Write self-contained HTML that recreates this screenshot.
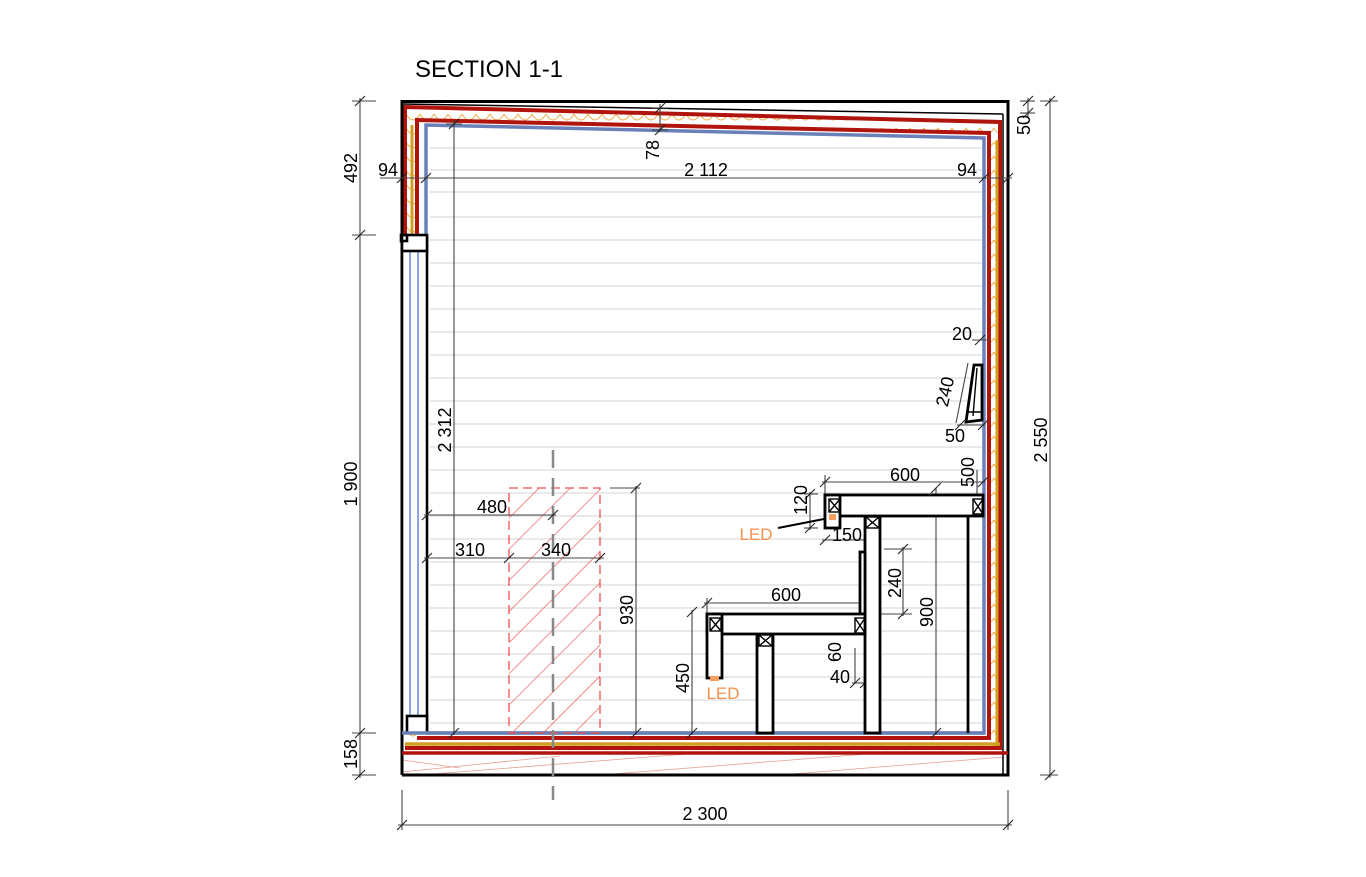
<!DOCTYPE html>
<html><head><meta charset="utf-8"><style>
html,body{margin:0;padding:0;background:#fff;}
svg{display:block;font-family:"Liberation Sans",Arial,sans-serif;}
</style></head><body>
<svg width="1366" height="877" viewBox="0 0 1366 877" xmlns="http://www.w3.org/2000/svg">
<defs>
<pattern id="ins" width="14" height="14" patternUnits="userSpaceOnUse">
<path d="M0 2 Q7 14 14 2" fill="none" stroke="#f2b860" stroke-width="1.2"/>
</pattern>
<pattern id="hat" width="22" height="22" patternUnits="userSpaceOnUse" patternTransform="rotate(45)">
<line x1="0" y1="0" x2="0" y2="22" stroke="#f05050" stroke-width="1.3"/>
</pattern>
</defs>
<text x="415" y="77" font-size="24" fill="#000">SECTION 1-1</text>

<g stroke="#dcdcdc" stroke-width="1.2">
<line x1="430" y1="148" x2="982" y2="148"/>
<line x1="430" y1="170" x2="982" y2="170"/><line x1="430" y1="192" x2="982" y2="192"/>
<line x1="430" y1="217" x2="982" y2="217"/><line x1="430" y1="240" x2="982" y2="240"/>
<line x1="430" y1="263" x2="982" y2="263"/><line x1="430" y1="286" x2="982" y2="286"/>
<line x1="430" y1="309" x2="982" y2="309"/><line x1="430" y1="332" x2="982" y2="332"/>
<line x1="430" y1="355" x2="982" y2="355"/><line x1="430" y1="378" x2="982" y2="378"/>
<line x1="430" y1="401" x2="982" y2="401"/><line x1="430" y1="424" x2="982" y2="424"/>
<line x1="430" y1="447" x2="982" y2="447"/><line x1="430" y1="470" x2="982" y2="470"/>
<line x1="430" y1="493" x2="982" y2="493"/><line x1="430" y1="516" x2="982" y2="516"/>
<line x1="430" y1="539" x2="982" y2="539"/><line x1="430" y1="562" x2="982" y2="562"/>
<line x1="430" y1="585" x2="982" y2="585"/><line x1="430" y1="608" x2="982" y2="608"/>
<line x1="430" y1="631" x2="982" y2="631"/><line x1="430" y1="654" x2="982" y2="654"/>
<line x1="430" y1="677" x2="982" y2="677"/><line x1="430" y1="700" x2="982" y2="700"/>
<line x1="430" y1="723" x2="982" y2="723"/>
</g>

<polygon points="405,107 1000,122 1000,748 405,748 405,236 416,236 416,120 988,133 988,738 416,738 416,236 405,236" fill="url(#ins)" fill-rule="evenodd"/>
<rect x="402" y="753" width="606" height="22" fill="#fff"/>
<g stroke="#e0a090" stroke-width="0.8">
<line x1="402" y1="772" x2="560" y2="756"/><line x1="420" y1="775" x2="700" y2="753"/>
<line x1="600" y1="775" x2="880" y2="753"/><line x1="780" y1="775" x2="1004" y2="757"/>
<line x1="402" y1="760" x2="460" y2="768"/>
</g>

<g fill="none" stroke-linejoin="miter">
<polyline points="405,236 405,107 1000,122 1000,748 405,748" stroke="#b0140c" stroke-width="4"/>
<polyline points="417,236 417,120 989,133 989,738 417,738" stroke="#b0140c" stroke-width="4"/>
<line x1="997" y1="140" x2="997" y2="746" stroke="#d0a020" stroke-width="3"/>
<line x1="405" y1="744" x2="1000" y2="744" stroke="#d0a020" stroke-width="3.5"/>
<line x1="412" y1="125" x2="412" y2="236" stroke="#d0a020" stroke-width="3"/>
<polyline points="426,236 426,125 984,138 984,733 426,733" stroke="#6a80b8" stroke-width="3.5"/>
</g>
<g fill="none" stroke="#000">
<polyline points="402,775 402,101.5 1008,101.5 1008,775 402,775" stroke-width="3"/>
<line x1="402" y1="104" x2="1003" y2="114" stroke-width="1.5"/>
<line x1="1003" y1="114" x2="1003" y2="775" stroke-width="1.5"/>
<line x1="402" y1="753" x2="1008" y2="753" stroke="#b0140c" stroke-width="3.5"/>
</g>

<rect x="402" y="236" width="24" height="497" fill="#fff"/>
<line x1="410" y1="250" x2="410" y2="716" stroke="#7a9ae0" stroke-width="1.8"/>
<line x1="418" y1="250" x2="418" y2="716" stroke="#7a9ae0" stroke-width="1.8"/>
<g fill="none" stroke="#000" stroke-width="2.6">
<line x1="402" y1="236" x2="402" y2="733"/><line x1="427" y1="236" x2="427" y2="733"/>
<rect x="402" y="235" width="25" height="16" fill="#fff"/>
<rect x="407" y="716" width="20" height="17" fill="#fff"/>
<rect x="401" y="235" width="6" height="6"/>
</g>
<line x1="402" y1="733" x2="984" y2="733" stroke="#6a80b8" stroke-width="3.5"/>

<rect x="509" y="488" width="91" height="245" fill="url(#hat)" stroke="#f05050" stroke-width="1.3" stroke-dasharray="9,5"/>
<line x1="553" y1="450" x2="553" y2="800" stroke="#888" stroke-width="2.5" stroke-dasharray="18,10"/>

<g stroke="#444" stroke-width="1.1" fill="none">
<line x1="360" y1="98" x2="360" y2="778"/>
<line x1="352" y1="101" x2="376" y2="101"/><line x1="352" y1="235" x2="376" y2="235"/>
<line x1="352" y1="733" x2="376" y2="733"/><line x1="352" y1="775" x2="376" y2="775"/>
<line x1="1050" y1="98" x2="1050" y2="778"/><line x1="1040" y1="101" x2="1058" y2="101"/><line x1="1040" y1="775" x2="1058" y2="775"/>
<line x1="1028" y1="98" x2="1028" y2="118"/><line x1="1020" y1="101" x2="1035" y2="101"/><line x1="1020" y1="113" x2="1035" y2="113"/>
<line x1="402" y1="790" x2="402" y2="830"/><line x1="1008" y1="790" x2="1008" y2="830"/>
<line x1="398" y1="825" x2="1012" y2="825"/>
<line x1="380" y1="178" x2="1012" y2="178"/>
<line x1="660" y1="104" x2="660" y2="132"/><line x1="652" y1="108" x2="668" y2="108"/><line x1="652" y1="130" x2="668" y2="130"/>
<line x1="454" y1="120" x2="454" y2="735"/><line x1="446" y1="124" x2="462" y2="124"/>
<line x1="424" y1="515" x2="556" y2="515"/>
<line x1="424" y1="558" x2="604" y2="558"/>
<line x1="636" y1="486" x2="636" y2="735"/><line x1="610" y1="488" x2="640" y2="488"/>
<line x1="692" y1="610" x2="692" y2="735"/>
<line x1="822" y1="482" x2="985" y2="482"/><line x1="825" y1="475" x2="825" y2="495"/>
<line x1="810" y1="492" x2="810" y2="530"/><line x1="804" y1="494" x2="818" y2="494"/><line x1="804" y1="528" x2="818" y2="528"/>
<line x1="822" y1="540" x2="870" y2="540"/>
<line x1="903" y1="547" x2="903" y2="616"/><line x1="884" y1="549" x2="912" y2="549"/><line x1="874" y1="614" x2="912" y2="614"/>
<line x1="936" y1="488" x2="936" y2="735"/>
<line x1="704" y1="603" x2="868" y2="603"/><line x1="707" y1="598" x2="707" y2="614"/>
<line x1="855" y1="648" x2="855" y2="683"/><line x1="852" y1="683" x2="868" y2="683"/>
<line x1="977" y1="470" x2="977" y2="495"/>
<line x1="972" y1="340" x2="990" y2="340"/>
<line x1="957" y1="425" x2="985" y2="425"/>
<line x1="956" y1="423" x2="968" y2="363"/>
</g>
<g stroke="#222" stroke-width="1.1">
<line x1="355" y1="106" x2="365" y2="96"/><line x1="355" y1="240" x2="365" y2="230"/><line x1="355" y1="738" x2="365" y2="728"/><line x1="355" y1="780" x2="365" y2="770"/>
<line x1="1045" y1="106" x2="1055" y2="96"/><line x1="1045" y1="780" x2="1055" y2="770"/>
<line x1="1023" y1="106" x2="1033" y2="96"/><line x1="1023" y1="118" x2="1033" y2="108"/>
<line x1="397" y1="830" x2="407" y2="820"/><line x1="1003" y1="830" x2="1013" y2="820"/>
<line x1="397" y1="183" x2="407" y2="173"/><line x1="421" y1="183" x2="431" y2="173"/><line x1="979" y1="183" x2="989" y2="173"/><line x1="1003" y1="183" x2="1013" y2="173"/>
<line x1="655" y1="113" x2="665" y2="103"/><line x1="655" y1="135" x2="665" y2="125"/>
<line x1="449" y1="129" x2="459" y2="119"/><line x1="449" y1="738" x2="459" y2="728"/>
<line x1="422" y1="520" x2="432" y2="510"/><line x1="548" y1="520" x2="558" y2="510"/>
<line x1="422" y1="563" x2="432" y2="553"/><line x1="504" y1="563" x2="514" y2="553"/><line x1="595" y1="563" x2="605" y2="553"/>
<line x1="631" y1="493" x2="641" y2="483"/><line x1="631" y1="738" x2="641" y2="728"/>
<line x1="687" y1="617" x2="697" y2="607"/><line x1="687" y1="738" x2="697" y2="728"/>
<line x1="820" y1="487" x2="830" y2="477"/><line x1="978" y1="487" x2="988" y2="477"/>
<line x1="805" y1="499" x2="815" y2="489"/><line x1="805" y1="533" x2="815" y2="523"/>
<line x1="820" y1="545" x2="830" y2="535"/><line x1="865" y1="545" x2="875" y2="535"/>
<line x1="898" y1="554" x2="908" y2="544"/><line x1="898" y1="619" x2="908" y2="609"/>
<line x1="702" y1="608" x2="712" y2="598"/><line x1="860" y1="608" x2="870" y2="598"/>
<line x1="850" y1="688" x2="860" y2="678"/><line x1="860" y1="688" x2="870" y2="678"/>
<line x1="931" y1="493" x2="941" y2="483"/><line x1="931" y1="738" x2="941" y2="728"/>
<line x1="975" y1="345" x2="985" y2="335"/><line x1="955" y1="430" x2="965" y2="420"/><line x1="978" y1="430" x2="988" y2="420"/>
</g>

<g fill="#fff" stroke="#000" stroke-width="2.8">
<rect x="865" y="516" width="15" height="217"/>
<line x1="968" y1="516" x2="968" y2="733"/>
<rect x="825" y="495" width="158" height="21"/>
<rect x="825" y="495" width="15" height="33"/>
<rect x="757" y="634" width="16" height="99"/>
<rect x="860" y="552" width="5" height="62"/>
<rect x="707" y="614" width="158" height="20"/>
<rect x="707" y="614" width="15" height="64"/>
<polygon points="974,365 982,365 982,420 966,422"/>
</g>
<g fill="none" stroke="#000" stroke-width="1.4">
<rect x="829" y="499" width="11" height="13"/><path d="M829 499L840 512M840 499L829 512"/>
<rect x="973" y="499" width="10" height="15"/><path d="M973 499L983 514M983 499L973 514"/>
<rect x="866" y="517" width="13" height="11"/><path d="M866 517L879 528M879 517L866 528"/>
<rect x="710" y="618" width="11" height="13"/><path d="M710 618L721 631M721 618L710 631"/>
<rect x="855" y="618" width="10" height="15"/><path d="M855 618L865 633M865 618L855 633"/>
<rect x="759" y="635" width="13" height="11"/><path d="M759 635L772 646M772 635L759 646"/>
<line x1="778" y1="528" x2="824" y2="519" stroke-width="2"/>
<path d="M977 368L973 416M968 412L981 412"/>
</g>
<rect x="829" y="514" width="7" height="6" fill="#f5a060"/>
<rect x="710" y="676" width="9" height="5" fill="#f5a060"/>

<g font-size="18" fill="#000">
<text transform="translate(357,168) rotate(-90)" text-anchor="middle">492</text>
<text transform="translate(357,484) rotate(-90)" text-anchor="middle">1 900</text>
<text transform="translate(357,754) rotate(-90)" text-anchor="middle">158</text>
<text transform="translate(1047,440) rotate(-90)" text-anchor="middle">2 550</text>
<text transform="translate(1030,125) rotate(-90)" text-anchor="middle">50</text>
<text x="705" y="820" text-anchor="middle">2 300</text>
<text x="388" y="176" text-anchor="middle">94</text>
<text x="706" y="176" text-anchor="middle">2 112</text>
<text x="967" y="176" text-anchor="middle">94</text>
<text transform="translate(659,150) rotate(-90)" text-anchor="middle">78</text>
<text transform="translate(451,430) rotate(-90)" text-anchor="middle">2 312</text>
<text x="492" y="513" text-anchor="middle">480</text>
<text x="470" y="556" text-anchor="middle">310</text>
<text x="556" y="556" text-anchor="middle">340</text>
<text transform="translate(633,610) rotate(-90)" text-anchor="middle">930</text>
<text transform="translate(689,678) rotate(-90)" text-anchor="middle">450</text>
<text x="905" y="481" text-anchor="middle">600</text>
<text transform="translate(807,500) rotate(-90)" text-anchor="middle">120</text>
<text x="847" y="541" text-anchor="middle">150</text>
<text transform="translate(901,583) rotate(-90)" text-anchor="middle">240</text>
<text transform="translate(933,612) rotate(-90)" text-anchor="middle">900</text>
<text x="786" y="601" text-anchor="middle">600</text>
<text transform="translate(841,652) rotate(-90)" text-anchor="middle">60</text>
<text x="840" y="683" text-anchor="middle">40</text>
<text transform="translate(974,472) rotate(-90)" text-anchor="middle">500</text>
<text x="962" y="340" text-anchor="middle">20</text>
<text transform="translate(951,393) rotate(-77)" text-anchor="middle">240</text>
<text x="955" y="442" text-anchor="middle">50</text>
</g>
<g font-size="17" fill="#f5904a">
<text x="756" y="540" text-anchor="middle">LED</text>
<text x="723" y="699" text-anchor="middle">LED</text>
</g>
</svg>
</body></html>
